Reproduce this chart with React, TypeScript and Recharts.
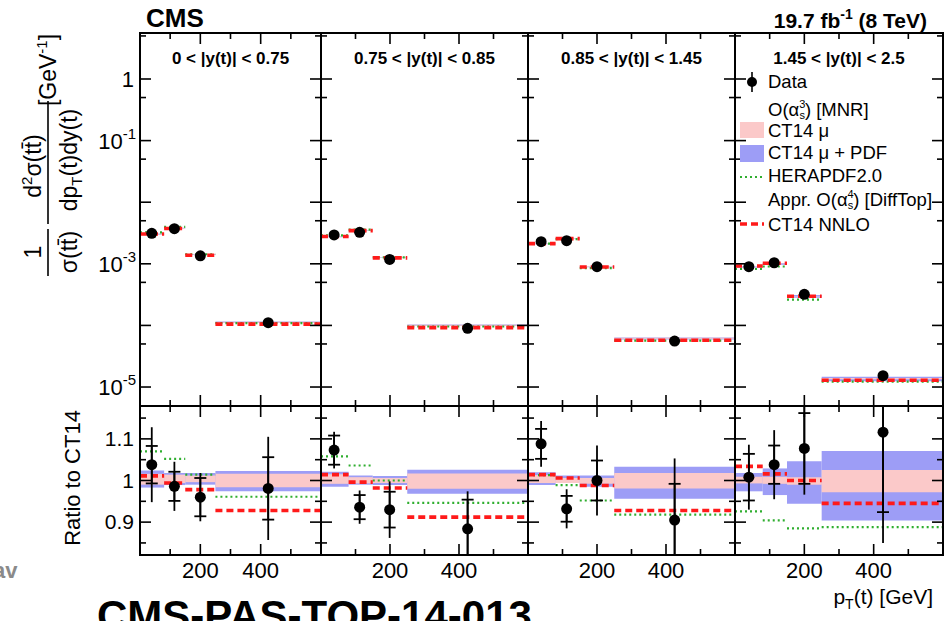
import React from 'react';
import { ComposedChart, XAxis, YAxis, Scatter, ErrorBar, ReferenceArea, ReferenceLine } from 'recharts';

const FONT = '"Liberation Sans", Arial, Helvetica, sans-serif';

// pT(t) bin edges [GeV], shared by all |y(t)| slices
const binEdges = [0, 80, 150, 250, 600];
const rapidityBins = ['0 < |y(t)| < 0.75', '0.75 < |y(t)| < 0.85', '0.85 < |y(t)| < 1.45', '1.45 < |y(t)| < 2.5'];

// data point positions inside each bin [GeV]
const dataPt = [
  [39, 114, 200, 425],
  [38, 112, 199, 425],
  [38, 112, 200, 425],
  [40, 113, 200, 427],
];

// normalised double-differential cross section [GeV^-1]
const dataXsec = [
  [3.13e-3, 3.72e-3, 1.35e-3, 1.11e-4],
  [2.94e-3, 3.25e-3, 1.18e-3, 8.97e-5],
  [2.29e-3, 2.37e-3, 8.97e-4, 5.58e-5],
  [8.97e-4, 1.04e-3, 3.2e-4, 1.53e-5],
];
const ct14Xsec = [
  [3.02e-3, 3.77e-3, 1.41e-3, 1.13e-4],
  [2.74e-3, 3.47e-3, 1.27e-3, 1.01e-4],
  [2.1e-3, 2.54e-3, 8.97e-4, 6.17e-5],
  [8.9e-4, 1.0e-3, 2.97e-4, 1.37e-5],
];
const nnloXsec = [
  [3.05e-3, 3.75e-3, 1.38e-3, 1.05e-4],
  [2.78e-3, 3.46e-3, 1.25e-3, 9.2e-5],
  [2.13e-3, 2.56e-3, 8.86e-4, 5.73e-5],
  [9.2e-4, 1.02e-3, 2.97e-4, 1.29e-5],
];
const heraXsec = [
  [3.23e-3, 3.97e-3, 1.43e-3, 1.09e-4],
  [2.9e-3, 3.59e-3, 1.27e-3, 9.6e-5],
  [2.13e-3, 2.51e-3, 8.54e-4, 5.66e-5],
  [8.24e-4, 9.04e-4, 2.63e-4, 1.22e-5],
];

// ratios to CT14
const dataRatio = [
  [1.038, 0.986, 0.96, 0.981],
  [1.073, 0.936, 0.93, 0.884],
  [1.088, 0.932, 1.0, 0.905],
  [1.008, 1.038, 1.077, 1.116],
];
const statErr = [
  [0.045, 0.035, 0.046, 0.075],
  [0.035, 0.029, 0.043, 0.07],
  [0.036, 0.031, 0.048, 0.087],
  [0.056, 0.046, 0.085, 0.192],
];
const totalErr = [
  [0.09, 0.059, 0.058, 0.124],
  [0.044, 0.04, 0.068, 0.09],
  [0.055, 0.047, 0.084, 0.148],
  [0.078, 0.083, 0.111, 0.266],
];
const nnloRatio = [
  [1.011, 0.994, 0.978, 0.928],
  [1.014, 0.996, 0.982, 0.912],
  [1.014, 1.006, 0.988, 0.928],
  [1.034, 1.016, 1.0, 0.945],
];
const heraRatio = [
  [1.07, 1.052, 1.014, 0.961],
  [1.058, 1.036, 1.0, 0.946],
  [1.013, 0.989, 0.952, 0.918],
  [0.926, 0.904, 0.885, 0.888],
];
// CT14 mu (scale) band and CT14 mu + PDF band, low / high edge as ratio
const scaleLo = [
  [0.99, 0.994, 0.996, 0.984],
  [0.992, 0.993, 0.994, 0.98],
  [0.994, 0.994, 0.992, 0.981],
  [0.993, 0.992, 0.99, 0.972],
];
const scaleHi = [
  [1.016, 1.014, 1.012, 1.016],
  [1.015, 1.008, 1.006, 1.017],
  [1.013, 1.006, 1.006, 1.018],
  [1.009, 1.009, 1.008, 1.025],
];
const pdfLo = [
  [0.983, 0.989, 0.99, 0.974],
  [0.985, 0.99, 0.989, 0.968],
  [0.989, 0.995, 0.985, 0.956],
  [0.974, 0.965, 0.944, 0.904],
];
const pdfHi = [
  [1.024, 1.018, 1.018, 1.023],
  [1.021, 1.012, 1.011, 1.026],
  [1.02, 1.012, 1.012, 1.033],
  [1.018, 1.029, 1.046, 1.071],
];

const ptTicks = [0, 100, 200, 300, 400, 500, 600];
const ptLabels = [200, 400];
const xsecTicks = [1e-5, 5e-5, 1e-4, 5e-4, 1e-3, 5e-3, 1e-2, 5e-2, 0.1, 0.5, 1, 5];
const xsecLabelExp = [0, -1, -3, -5];
const ratioTicks = [0.85, 0.9, 0.95, 1, 1.05, 1.1, 1.15];
const ratioLabels = ['0.9', '1', '1.1'];

// pad geometry (pixels)
const frameX = [140, 321, 528, 735, 943];
const xsecPad = { top: 33, height: 373 };
const ratioPad = { top: 406, height: 149 };
const xsecDomain: [number, number] = [4.92e-6, 5.58];
const ratioDomain: [number, number] = [0.821, 1.179];
const M = 4;

const BLUE = '#9d9df6';
const PINK = '#fbc9c9';
const RED = '#ff1a1a';
const GREEN = '#2fae2f';

// error bars of the ratio pads are cut at the pad edges
const padCss = `.ratio-pad [class*="errorBar"] { clip-path: url(#ratio-clip); }`;

function SlicePanel({ slice, ratio }: { slice: number; ratio: boolean }) {
  const left = frameX[slice];
  const w = frameX[slice + 1] - left;
  const pad = ratio ? ratioPad : xsecPad;
  const h = pad.height;
  const yAxisW = slice === 0 ? 60 : 1;
  const xAxisH = ratio ? 40 : 1;

  const points = dataPt[slice].map((x, j) =>
    ratio
      ? { x, y: dataRatio[slice][j], stat: statErr[slice][j], tot: totalErr[slice][j] }
      : { x, y: dataXsec[slice][j] }
  );
  const center = ratio ? [1, 1, 1, 1] : ct14Xsec[slice];
  const nnlo = ratio ? nnloRatio[slice] : nnloXsec[slice];
  const hera = ratio ? heraRatio[slice] : heraXsec[slice];
  const bins = binEdges.slice(0, -1).map((lo, j) => ({ lo, hi: binEdges[j + 1], j }));

  const tickStroke = { stroke: '#000', strokeWidth: 1.6 };

  const renderYTick = (props: any) => {
    const { x, y, payload } = props;
    const v: number = payload.value;
    let major: boolean;
    let label: React.ReactNode = null;
    if (ratio) {
      const txt = ratioLabels.find((s) => Math.abs(parseFloat(s) - v) < 1e-6);
      major = !!txt;
      if (txt && slice === 0) {
        label = (
          <text x={x - 6} y={y + 7} textAnchor="end" fontSize={21} fontFamily={FONT}>
            {txt}
          </text>
        );
      }
    } else {
      const e = Math.log10(v);
      major = Math.abs(e - Math.round(e)) < 1e-6;
      const ex = Math.round(e);
      if (major && slice === 0 && xsecLabelExp.includes(ex)) {
        label =
          ex === 0 ? (
            <text x={x - 6} y={y + 8} textAnchor="end" fontSize={22} fontFamily={FONT}>
              1
            </text>
          ) : (
            <text x={x - 4} y={y + 8} textAnchor="end" fontSize={22} fontFamily={FONT}>
              10
              <tspan dy={-10} fontSize={15}>
                {String(ex)}
              </tspan>
            </text>
          );
      }
    }
    const len = major ? 11 : 6;
    return (
      <g>
        <line x1={x} x2={x + len} y1={y} y2={y} {...tickStroke} />
        <line x1={x + w} x2={x + w - len} y1={y} y2={y} {...tickStroke} />
        {label}
      </g>
    );
  };

  const renderXTick = (props: any) => {
    const { x, y, payload } = props;
    const v: number = payload.value;
    if (v === 0 || v === 600) return <g />;
    const len = v % 200 === 0 ? 11 : 6;
    return (
      <g>
        <line x1={x} x2={x} y1={y} y2={y - len} {...tickStroke} />
        <line x1={x} x2={x} y1={y - h} y2={y - h + len} {...tickStroke} />
        {ratio && ptLabels.includes(v) && (
          <text x={x} y={y + 23} textAnchor="middle" fontSize={22} fontFamily={FONT}>
            {v}
          </text>
        )}
      </g>
    );
  };

  return (
    <div
      className={ratio ? 'ratio-pad' : 'xsec-pad'}
      style={{ position: 'absolute', left: left - M - yAxisW, top: pad.top - M }}
    >
      <ComposedChart
        width={M + yAxisW + w + M}
        height={M + h + xAxisH + M}
        margin={{ top: M, right: M, bottom: M, left: M }}
      >
        <XAxis
          dataKey="x"
          type="number"
          domain={[0, 600]}
          ticks={ptTicks}
          interval={0}
          allowDataOverflow
          height={xAxisH}
          tickSize={0}
          tickMargin={0}
          axisLine={false}
          tickLine={false}
          tick={renderXTick}
        />
        <YAxis
          dataKey="y"
          type="number"
          scale={ratio ? 'linear' : 'log'}
          domain={ratio ? ratioDomain : xsecDomain}
          ticks={ratio ? ratioTicks : xsecTicks}
          interval={0}
          allowDataOverflow
          width={yAxisW}
          tickSize={0}
          tickMargin={0}
          axisLine={false}
          tickLine={false}
          tick={renderYTick}
        />
        {bins.map((b) => (
          <ReferenceArea
            key={`pdf${b.j}`}
            x1={b.lo}
            x2={b.hi}
            y1={center[b.j] * pdfLo[slice][b.j]}
            y2={center[b.j] * pdfHi[slice][b.j]}
            fill={BLUE}
            fillOpacity={1}
            stroke="none"
            ifOverflow="hidden"
          />
        ))}
        {bins.map((b) => (
          <ReferenceArea
            key={`mu${b.j}`}
            x1={b.lo}
            x2={b.hi}
            y1={center[b.j] * scaleLo[slice][b.j]}
            y2={center[b.j] * scaleHi[slice][b.j]}
            fill={PINK}
            fillOpacity={1}
            stroke="none"
            ifOverflow="hidden"
          />
        ))}
        {bins.map((b) => (
          <ReferenceLine
            key={`hera${b.j}`}
            segment={[
              { x: b.lo, y: hera[b.j] },
              { x: b.hi, y: hera[b.j] },
            ]}
            stroke={GREEN}
            strokeWidth={2.2}
            strokeDasharray="2 3"
            ifOverflow="hidden"
          />
        ))}
        {bins.map((b) => (
          <ReferenceLine
            key={`nnlo${b.j}`}
            segment={[
              { x: b.lo, y: nnlo[b.j] },
              { x: b.hi, y: nnlo[b.j] },
            ]}
            stroke={RED}
            strokeWidth={3.6}
            strokeDasharray="7 4"
            ifOverflow="hidden"
          />
        ))}
        <Scatter
          data={points}
          isAnimationActive={false}
          shape={(p: any) => <circle cx={p.cx} cy={p.cy} r={5.5} fill="#000" />}
        >
          {ratio && <ErrorBar dataKey="tot" direction="y" width={0} stroke="#000" strokeWidth={1.8} />}
          {ratio && <ErrorBar dataKey="stat" direction="y" width={6} stroke="#000" strokeWidth={1.8} />}
        </Scatter>
      </ComposedChart>
    </div>
  );
}

function Annotations() {
  const tt = 'tt\u0304';
  return (
    <svg
      width={944}
      height={621}
      style={{ position: 'absolute', left: 0, top: 0, pointerEvents: 'none' }}
      fontFamily={FONT}
    >
      <defs>
        {/* user space of the ratio-pad charts: plot area starts at y = M */}
        <clipPath id="ratio-clip" clipPathUnits="userSpaceOnUse">
          <rect x={-2000} y={M} width={4000} height={ratioPad.height} />
        </clipPath>
      </defs>

      {/* pad frames */}
      {rapidityBins.map((_, i) => (
        <g key={i}>
          <rect x={frameX[i]} y={xsecPad.top} width={frameX[i + 1] - frameX[i]} height={xsecPad.height} fill="none" stroke="#000" strokeWidth={2} />
          <rect x={frameX[i]} y={ratioPad.top} width={frameX[i + 1] - frameX[i]} height={ratioPad.height} fill="none" stroke="#000" strokeWidth={2} />
          <text x={(frameX[i] + frameX[i + 1]) / 2} y={64} textAnchor="middle" fontSize={17} fontWeight="bold">
            {rapidityBins[i]}
          </text>
        </g>
      ))}

      <text x={146} y={27} fontSize={26} fontWeight="bold">CMS</text>
      <text x={927} y={28} textAnchor="end" fontSize={21} fontWeight="bold">
        19.7 fb<tspan dy={-9} fontSize={14}>-1</tspan>
        <tspan dy={9}> (8 TeV)</tspan>
      </text>

      {/* y title of the cross-section pad */}
      <text transform="translate(41,252) rotate(-90)" textAnchor="middle" fontSize={23}>1</text>
      <line x1={48} x2={48} y1={229} y2={276} stroke="#000" strokeWidth={1.6} />
      <text transform="translate(77,252) rotate(-90)" textAnchor="middle" fontSize={23}>{`σ(${tt})`}</text>
      <text transform="translate(41,166) rotate(-90)" textAnchor="middle" fontSize={23}>
        d<tspan dy={-9} fontSize={15}>2</tspan>
        <tspan dy={9}>{`σ(${tt})`}</tspan>
      </text>
      <line x1={48} x2={48} y1={101} y2={224} stroke="#000" strokeWidth={1.6} />
      <text transform="translate(77,160) rotate(-90)" textAnchor="middle" fontSize={23}>
        dp<tspan dy={5} fontSize={15}>T</tspan>
        <tspan dy={-5}>(t)dy(t)</tspan>
      </text>
      <text transform="translate(56,70) rotate(-90)" textAnchor="middle" fontSize={23}>
        [GeV<tspan dy={-9} fontSize={15}>-1</tspan>
        <tspan dy={9}>]</tspan>
      </text>

      <text transform="translate(80,478) rotate(-90)" textAnchor="middle" fontSize={22}>Ratio to CT14</text>

      <text x={933} y={604} textAnchor="end" fontSize={21}>
        p<tspan dy={5} fontSize={14}>T</tspan>
        <tspan dy={-5}>(t) [GeV]</tspan>
      </text>

      {/* legend */}
      <g fontSize={18.5}>
        <line x1={752} x2={752} y1={72} y2={92} stroke="#000" strokeWidth={1.6} />
        <circle cx={752} cy={82} r={5} fill="#000" />
        <text x={768} y={88}>Data</text>
        <text x={768} y={116}>
          O(α<tspan dy={-8} fontSize={11}>3</tspan>
          <tspan dx={-6} dy={11} fontSize={11}>s</tspan>
          <tspan dy={-3}>) [MNR]</tspan>
        </text>
        <rect x={740} y={122} width={24} height={16} fill={PINK} />
        <text x={768} y={137}>CT14 μ</text>
        <rect x={740} y={145} width={24} height={17} fill={BLUE} />
        <text x={768} y={159}>CT14 μ + PDF</text>
        <line x1={740} x2={764} y1={177} y2={177} stroke={GREEN} strokeWidth={2.2} strokeDasharray="2 3" />
        <text x={768} y={182}>HERAPDF2.0</text>
        <text x={768} y={206}>
          Appr. O(α<tspan dy={-8} fontSize={11}>4</tspan>
          <tspan dx={-6} dy={11} fontSize={11}>s</tspan>
          <tspan dy={-3}>) [DiffTop]</tspan>
        </text>
        <line x1={740} x2={764} y1={224} y2={224} stroke={RED} strokeWidth={3.6} strokeDasharray="7 4" />
        <text x={768} y={231}>CT14 NNLO</text>
      </g>

      <text x={97} y={630} fontSize={42} fontWeight="bold">CMS-PAS-TOP-14-013</text>
      <text x={-7} y={578} fontSize={22} fontWeight="bold" fill="#8a8a8a">av</text>
    </svg>
  );
}

export default function App() {
  return (
    <div style={{ position: 'absolute', left: 0, top: 0, width: 944, height: 621, overflow: 'hidden', background: '#fff', fontFamily: FONT }}>
      <style>{padCss}</style>
      {rapidityBins.map((_, i) => (
        <React.Fragment key={i}>
          <SlicePanel slice={i} ratio={false} />
          <SlicePanel slice={i} ratio={true} />
        </React.Fragment>
      ))}
      <Annotations />
    </div>
  );
}
